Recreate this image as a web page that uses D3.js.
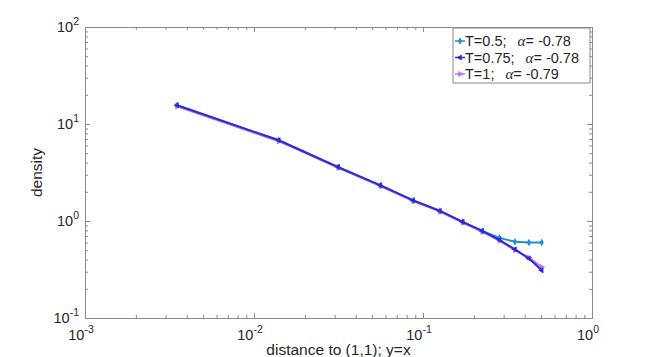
<!DOCTYPE html>
<html>
<head>
    <meta charset="UTF-8">
    <title>density vs distance</title>
    <style>
        body { margin: 0; background: white; }
        svg { display: block; font-family: "Liberation Sans", Arial, sans-serif; }
        .tick-lbl { font-size: 14.5px; fill: #262626; }
        .ax-title { font-size: 15.5px; fill: #262626; }
    </style>
</head>
<body>
    <svg></svg>
    <script src="https://d3js.org/d3.v7.min.js"></script>
    <script>

        let width = 654, height = 357

        // data
        let dist = [0.0035, 0.014, 0.0315, 0.056, 0.0875, 0.126, 0.1715, 0.224, 0.2835, 0.35, 0.4235, 0.504]
        let densT05 = [15.6, 6.8, 3.6, 2.33, 1.63, 1.27, 0.98, 0.79, 0.67, 0.61, 0.60, 0.60]
        let densT075 = [15.6, 6.8, 3.6, 2.33, 1.63, 1.27, 0.98, 0.79, 0.64, 0.51, 0.41, 0.31]
        let densT1 = [15.2, 6.65, 3.53, 2.29, 1.60, 1.25, 0.965, 0.775, 0.625, 0.50, 0.42, 0.335]
        let seriesNames = ["T=0.5;", "T=0.75;", "T=1;"]
        let alphas = ["-0.78", "-0.78", "-0.79"]
        let colors = ["#1f8fd6", "#2b2bd6", "#c070f0"]
        let xExp = [-3, -2, -1, 0]
        let yExp = [-1, 0, 1, 2]

        let margin = { left: 85, top: 27, right: 62, bottom: 39 }
        let w = width - margin.left - margin.right
        let h = height - margin.top - margin.bottom

        let svg = d3.select("svg")
            .attr("width", width)
            .attr("height", height)

        let x = d3.scaleLog().domain([1e-3, 1]).range([0, w])
        let y = d3.scaleLog().domain([1e-1, 1e2]).range([h, 0])

        let g = svg.append("g")
            .attr("transform", "translate(" + margin.left + "," + margin.top + ")")

        // ticks: majors + minors (2..9 per decade)
        function minors(exps) {
            let out = []
            for (let i = 0; i < exps.length - 1; i++)
                for (let k = 2; k <= 9; k++) out.push(k * Math.pow(10, exps[i]))
            return out
        }
        let xMaj = xExp.map(e => Math.pow(10, e)), yMaj = yExp.map(e => Math.pow(10, e))

        function styleAxis(sel) {
            sel.select(".domain").attr("stroke", "#8a8a8a")
            sel.selectAll(".tick line").attr("stroke", "#8a8a8a")
            sel.selectAll(".tick text").remove()
        }

        // inside ticks on all four sides
        g.append("g").attr("transform", "translate(0," + h + ")")
            .call(d3.axisBottom(x).tickValues(xMaj).tickSize(-5).tickSizeOuter(0)).call(styleAxis)
        g.append("g").attr("transform", "translate(0," + h + ")")
            .call(d3.axisBottom(x).tickValues(minors(xExp)).tickSize(-3).tickSizeOuter(0)).call(styleAxis)
        g.append("g")
            .call(d3.axisTop(x).tickValues(xMaj).tickSize(-5).tickSizeOuter(0)).call(styleAxis)
        g.append("g")
            .call(d3.axisTop(x).tickValues(minors(xExp)).tickSize(-3).tickSizeOuter(0)).call(styleAxis)
        g.append("g")
            .call(d3.axisLeft(y).tickValues(yMaj).tickSize(-5).tickSizeOuter(0)).call(styleAxis)
        g.append("g")
            .call(d3.axisLeft(y).tickValues(minors(yExp)).tickSize(-3).tickSizeOuter(0)).call(styleAxis)
        g.append("g").attr("transform", "translate(" + w + ",0)")
            .call(d3.axisRight(y).tickValues(yMaj).tickSize(-5).tickSizeOuter(0)).call(styleAxis)
        g.append("g").attr("transform", "translate(" + w + ",0)")
            .call(d3.axisRight(y).tickValues(minors(yExp)).tickSize(-3).tickSizeOuter(0)).call(styleAxis)

        // tick labels 10^n
        xExp.forEach(e => {
            let t = g.append("text").attr("class", "tick-lbl")
                .attr("x", x(Math.pow(10, e)) - 4).attr("y", h + 22)
                .attr("text-anchor", "middle")
            t.append("tspan").text("10")
            t.append("tspan").attr("dy", -7).style("font-size", "10.5px").text(e)
        })
        yExp.forEach(e => {
            let t = g.append("text").attr("class", "tick-lbl")
                .attr("x", -6).attr("y", y(Math.pow(10, e)) + 5)
                .attr("text-anchor", "end")
            t.append("tspan").text("10")
            t.append("tspan").attr("dy", -7).style("font-size", "10.5px").text(e)
        })

        // axis titles
        g.append("text").attr("class", "ax-title")
            .attr("x", w / 2).attr("y", h + 37)
            .attr("text-anchor", "middle")
            .text("distance to (1,1); y=x")
        g.append("text").attr("class", "ax-title")
            .attr("transform", "translate(-43," + (h / 2) + ") rotate(-90)")
            .attr("text-anchor", "middle")
            .text("density")

        // series
        let series = [densT05, densT1, densT075]
        let order = [0, 2, 1]
        let line = d3.line().x(d => x(d[0])).y(d => y(d[1]))
        let symbols = [
            { type: d3.symbolDiamond, rot: 0 },
            { type: d3.symbolTriangle, rot: -90 },
            { type: d3.symbolTriangle, rot: 90 }
        ]

        series.forEach((vals, j) => {
            let si = order[j]
            let pts = dist.map((d, i) => [d, vals[i]])
            g.append("path")
                .datum(pts)
                .attr("fill", "none")
                .attr("stroke", colors[si])
                .attr("stroke-width", 2)
                .attr("d", line)
            g.append("g").selectAll("path")
                .data(pts)
                .enter()
                .append("path")
                .attr("d", d3.symbol().type(symbols[si].type).size(16))
                .attr("fill", colors[si])
                .attr("transform", d => "translate(" + x(d[0]) + "," + y(d[1]) + ") rotate(" + symbols[si].rot + ")")
        })

        // legend
        let lg = svg.append("g").attr("transform", "translate(453,28)")
        lg.append("rect")
            .attr("width", 137).attr("height", 55)
            .attr("fill", "white").attr("stroke", "#8a8a8a").attr("stroke-width", 1)
        seriesNames.forEach((name, i) => {
            let yy = 13 + i * 16.5
            lg.append("line")
                .attr("x1", 2).attr("x2", 12).attr("y1", yy).attr("y2", yy)
                .attr("stroke", colors[i]).attr("stroke-width", 1.5)
            lg.append("path")
                .attr("d", d3.symbol().type(symbols[i].type).size(16))
                .attr("fill", colors[i])
                .attr("transform", "translate(7," + yy + ") rotate(" + symbols[i].rot + ")")
            let t = lg.append("text").attr("class", "tick-lbl")
                .attr("x", 12).attr("y", yy + 5)
                .style("font-size", "14.5px")
            t.append("tspan").text(name)
            t.append("tspan").attr("dx", 11)
                .style("font-family", "'Liberation Serif', 'DejaVu Serif', serif")
                .style("font-style", "italic")
                .style("font-size", "15px")
                .text("α")
            t.append("tspan").text("= " + alphas[i])
        })

    </script>
</body>
</html>
